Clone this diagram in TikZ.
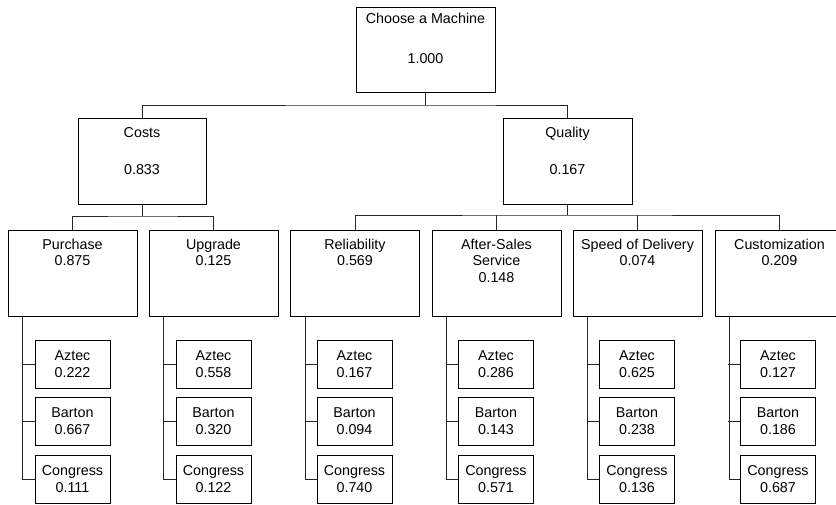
\documentclass[tikz,border=0pt]{standalone}
\usepackage{fontspec}
\setmainfont{Liberation Sans}
\begin{document}
\begin{tikzpicture}[x=1pt,y=-1pt,
  every node/.style={font=\fontsize{14.3}{16.8}\selectfont, inner sep=0pt},
  box/.style={draw=black, line width=0.9pt, rectangle},
  topbox/.style={box, minimum width=139pt, minimum height=85pt},
  midbox/.style={box, minimum width=128pt, minimum height=86pt},
  critbox/.style={box, minimum width=129pt, minimum height=86pt},
  leaf/.style={box, minimum width=75pt, minimum height=48pt, align=center},
  lbl/.style={anchor=base, align=center},
  toplbl/.style={anchor=north, align=center},
  conn/.style={draw=black!85, line width=0.9pt}]
\useasboundingbox (0,0) rectangle (836,505);
\clip (0,0) rectangle (836,505);
\fill[white] (0,0) rectangle (836,505);

% top
\node[topbox] (top) at (425.5,49.5) {};
\node[lbl] (topT) at (425.5,24) {Choose a Machine};
\node[lbl] (topV) at (425.5,64) {1.000};

% level 1
\node[midbox] (costs) at (142,161) {};
\node[lbl] (costsT) at (142,138) {Costs};
\node[lbl] (costsV) at (142,175) {0.833};
\node[critbox] (quality) at (567.5,161) {};
\node[lbl] (qualityT) at (567.5,138) {Quality};
\node[lbl] (qualityV) at (567.5,175) {0.167};

% level 2
\node[critbox] (pur) at (72.5,273) {};
\node[toplbl] (purT) at (72.5,238.5) {Purchase\\0.875};
\node[critbox] (upg) at (213.5,273) {};
\node[toplbl] (upgT) at (213.5,238.5) {Upgrade\\0.125};
\node[critbox] (rel) at (355,273) {};
\node[toplbl] (relT) at (355,238.5) {Reliability\\0.569};
\node[critbox] (aft) at (496.5,273) {};
\node[toplbl] (aftT) at (496.5,238.5) {After-Sales\\Service\\0.148};
\node[critbox] (spd) at (637.5,273) {};
\node[toplbl] (spdT) at (637.5,238.5) {Speed of Delivery\\0.074};
\node[critbox] (cus) at (779.5,273) {};
\node[toplbl] (cusT) at (779.5,238.5) {Customization\\0.209};

% leaves
\node[leaf] (pa) at (72.5,364) {Aztec\\0.222};
\node[leaf] (pb) at (72.5,421.5) {Barton\\0.667};
\node[leaf] (pc) at (72.5,479) {Congress\\0.111};
\node[leaf] (ua) at (213.5,364) {Aztec\\0.558};
\node[leaf] (ub) at (213.5,421.5) {Barton\\0.320};
\node[leaf] (uc) at (213.5,479) {Congress\\0.122};
\node[leaf] (ra) at (354.5,364) {Aztec\\0.167};
\node[leaf] (rb) at (354.5,421.5) {Barton\\0.094};
\node[leaf] (rc) at (354.5,479) {Congress\\0.740};
\node[leaf] (aa) at (496,364) {Aztec\\0.286};
\node[leaf] (ab) at (496,421.5) {Barton\\0.143};
\node[leaf] (ac) at (496,479) {Congress\\0.571};
\node[leaf] (sa) at (637,364) {Aztec\\0.625};
\node[leaf] (sb) at (637,421.5) {Barton\\0.238};
\node[leaf] (sc) at (637,479) {Congress\\0.136};
\node[leaf] (ca) at (778,364) {Aztec\\0.127};
\node[leaf] (cb) at (778,421.5) {Barton\\0.186};
\node[leaf] (cc) at (778,479) {Congress\\0.687};

% connectors top
\coordinate (j0) at (425.5,105);
\draw[conn] (top.south) -- (j0);
\draw[conn] (costs.north) |- (j0) -| (quality.north);
\coordinate (j1) at (142,216);
\draw[conn] (costs.south) -- (j1);
\draw[conn] (pur.north) |- (j1) -| (upg.north);
\coordinate (j2) at (567.5,215);
\draw[conn] (quality.south) -- (j2);
\draw[conn] (rel.north) |- (j2) -| (cus.north);
\draw[conn] (aft.north) -- (aft.north |- j2);
\draw[conn] (spd.north) -- (spd.north |- j2);

% leaf connectors
\foreach \p/\a/\b/\c in {pur/pa/pb/pc, upg/ua/ub/uc, rel/ra/rb/rc, aft/aa/ab/ac, spd/sa/sb/sc, cus/ca/cb/cc}{
  \draw[conn] ([xshift=15pt]\p.south west) |- (\c.west);
  \draw[conn] (\a.west) -- ++(-12,0);
  \draw[conn] (\b.west) -- ++(-12,0);
}
\end{tikzpicture}
\end{document}
